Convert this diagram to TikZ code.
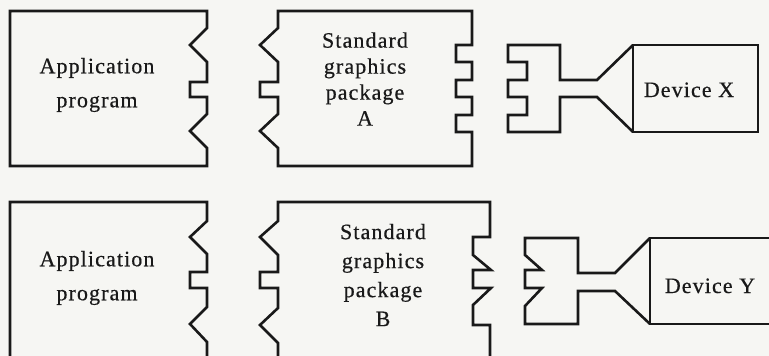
\documentclass[tikz,border=0pt]{standalone}
\usepackage{fontspec}
\setmainfont{Liberation Serif}[LetterSpace=5,FakeBold=0.5]
\definecolor{paper}{RGB}{246,246,243}
\definecolor{ink}{RGB}{25,25,25}
\begin{document}
\begin{tikzpicture}[x=1pt,y=-1pt,
  outline/.style={draw=ink,line width=2.6pt,line join=miter},
  lbl/.style={align=center,inner sep=0pt,text=ink},
  applbl/.style={lbl,font=\fontsize{22}{34}\selectfont},
  pkgalbl/.style={lbl,font=\fontsize{22}{26}\selectfont},
  pkgblbl/.style={lbl,font=\fontsize{22}{29}\selectfont},
  devlbl/.style={lbl,font=\fontsize{22}{26}\selectfont,anchor=base}]
\useasboundingbox (0,0) rectangle (769,356);
\fill[paper] (0,0) rectangle (769,356);
\clip (0,0) rectangle (769,356);

% ---------- top row ----------
% Application program (A)
\draw[outline] (10,11) -- (207,11) -- (207,28) -- (190,45) -- (207,62) -- (207,82)
  -- (190,82) -- (190,97) -- (207,97) -- (207,114) -- (190,131) -- (207,148)
  -- (207,166) -- (10,166) -- cycle;
% Standard graphics package A
\draw[outline] (278,11) -- (472,11) -- (472,45) -- (456,45) -- (456,62) -- (472,62)
  -- (472,80) -- (456,80) -- (456,97) -- (472,97) -- (472,115) -- (456,115)
  -- (456,132) -- (472,132) -- (472,166) -- (278,166) -- (278,148) -- (260,131)
  -- (278,114) -- (278,97) -- (260,97) -- (260,82) -- (278,82) -- (278,62)
  -- (260,45) -- (278,28) -- cycle;
% plug X
\draw[outline] (633,45) -- (597,80) -- (560,80) -- (560,45) -- (508,45) -- (508,62)
  -- (527,62) -- (527,80) -- (508,80) -- (508,97) -- (527,97) -- (527,115)
  -- (508,115) -- (508,132) -- (560,132) -- (560,97) -- (597,97) -- (633,132);
% Device X
\draw[outline] (633,45) rectangle (758,132);

\node[applbl] (appA) at (97,85) {Application\\program};
\node[pkgalbl] (pkgA) at (365,79) {Standard\\graphics\\package\\A};
\node[devlbl] (devX) at (689,97) {Device X};

% ---------- bottom row ----------
% Application program (B)
\draw[outline] (10,362) -- (10,202) -- (207,202) -- (207,221) -- (190,237) -- (207,254)
  -- (207,272) -- (190,272) -- (190,288) -- (207,288) -- (207,307) -- (190,324)
  -- (207,342) -- (207,362);
% Standard graphics package B
\draw[outline] (278,362) -- (278,343) -- (260,325) -- (278,308) -- (278,288)
  -- (260,288) -- (260,272) -- (278,272) -- (278,255) -- (260,237) -- (278,221)
  -- (278,202) -- (490,202) -- (490,237) -- (473,237) -- (473,255) -- (491,270)
  -- (473,270) -- (473,288) -- (491,288) -- (473,305) -- (473,325) -- (490,325)
  -- (490,362);
% plug Y
\draw[outline] (650,238) -- (615,273) -- (578,273) -- (578,238) -- (525,238)
  -- (525,255) -- (542,270) -- (525,270) -- (525,288) -- (542,288) -- (525,306)
  -- (525,324) -- (578,324) -- (578,291) -- (615,291) -- (650,324);
% Device Y
\draw[outline] (780,238) -- (650,238) -- (650,324) -- (780,324);

\node[applbl] (appB) at (97,278) {Application\\program};
\node[pkgblbl] (pkgB) at (383,275) {Standard\\graphics\\package\\B};
\node[devlbl] (devY) at (710,293) {Device Y};
\end{tikzpicture}
\end{document}
